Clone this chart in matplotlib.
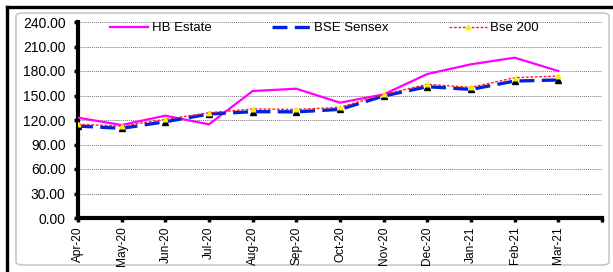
import matplotlib.pyplot as plt
from matplotlib.patches import FancyBboxPatch
from matplotlib.lines import Line2D

months = ['Apr-20', 'May-20', 'Jun-20', 'Jul-20', 'Aug-20', 'Sep-20',
          'Oct-20', 'Nov-20', 'Dec-20', 'Jan-21', 'Feb-21', 'Mar-21']
hb_estate = [122.8, 113.9, 125.3, 114.7, 155.5, 158.3, 141.2, 151.4, 176.3, 188.2, 196.3, 180.0]
bse_sensex = [112.6, 109.8, 117.9, 127.3, 130.2, 130.0, 133.0, 149.4, 160.8, 157.5, 167.7, 169.0]
bse_200 = [114.7, 112.6, 120.8, 128.9, 133.5, 133.0, 135.5, 151.4, 163.7, 160.0, 171.8, 173.8]
y_ticks = [0, 30, 60, 90, 120, 150, 180, 210, 240]

plt.rcParams['font.family'] = ['Liberation Sans', 'DejaVu Sans']

W, H = 613, 272
fig = plt.figure(figsize=(W / 100, H / 100), dpi=100)

# outer black frame (top and left) and rounded inner panel, behind the axes
fig.add_artist(Line2D([6.5 / W, 6.5 / W], [0, 1 - 6.5 / H], color='black', lw=2.4,
                      transform=fig.transFigure, solid_capstyle='projecting', zorder=-2))
fig.add_artist(Line2D([6.5 / W, 1], [1 - 6.5 / H, 1 - 6.5 / H], color='black', lw=2.4,
                      transform=fig.transFigure, solid_capstyle='projecting', zorder=-2))
fig.add_artist(FancyBboxPatch((16 / W, 1 - 265 / H), (609 - 16) / W, (265 - 13) / H,
                              boxstyle='round,pad=0,rounding_size=0.012',
                              transform=fig.transFigure, facecolor='white',
                              edgecolor='#c8c8c8', lw=1.2, zorder=-1))

ax = fig.add_axes([78 / W, 1 - 218 / H, (602 - 78) / W, (218 - 22) / H])
ax.patch.set_alpha(0)

x = list(range(len(months)))
ax.plot(x, hb_estate, color='#ff00ff', lw=1.6, label='HB Estate', zorder=3)
ax.plot(x, bse_sensex, ls='none', marker='^', ms=4.5, color='black', zorder=2)
ax.plot(x, bse_sensex, color='#0022dd', lw=2.4, dashes=(4.5, 2.2), label='BSE Sensex', zorder=3)
ax.plot(x, bse_200, color='#ff2020', lw=1.0, dashes=(2, 1.2), marker='^', ms=3.3,
        mfc='#ffee00', mec='#ffee00', label='Bse 200', zorder=4)

ax.set_xlim(0, 12)
ax.set_ylim(0, 240)
ax.set_yticks(y_ticks)
ax.set_yticklabels([f'{v:.2f}' for v in y_ticks], fontsize=10)
ax.set_xticks(list(range(13)))
ax.set_xticklabels(months + [''], rotation=90, fontsize=8.6,
                   family=['Liberation Sans Narrow', 'Liberation Sans'])
ax.tick_params(axis='both', length=3, width=2.5, color='black', pad=3)
ax.tick_params(axis='y', pad=6)

ax.grid(axis='y', color='#777777', ls=(0, (1, 1)), lw=0.7)
ax.set_axisbelow(True)
for s in ['top', 'right']:
    ax.spines[s].set_visible(False)
ax.spines['left'].set_linewidth(3)
ax.spines['bottom'].set_linewidth(3)

ax.legend(loc='upper left', bbox_to_anchor=(0.061, 1.0), ncol=3, frameon=False,
          fontsize=9.5, handlelength=2.9, handletextpad=0.25, columnspacing=4.6,
          borderpad=0, borderaxespad=0)

fig.savefig('out.png', dpi=100)
